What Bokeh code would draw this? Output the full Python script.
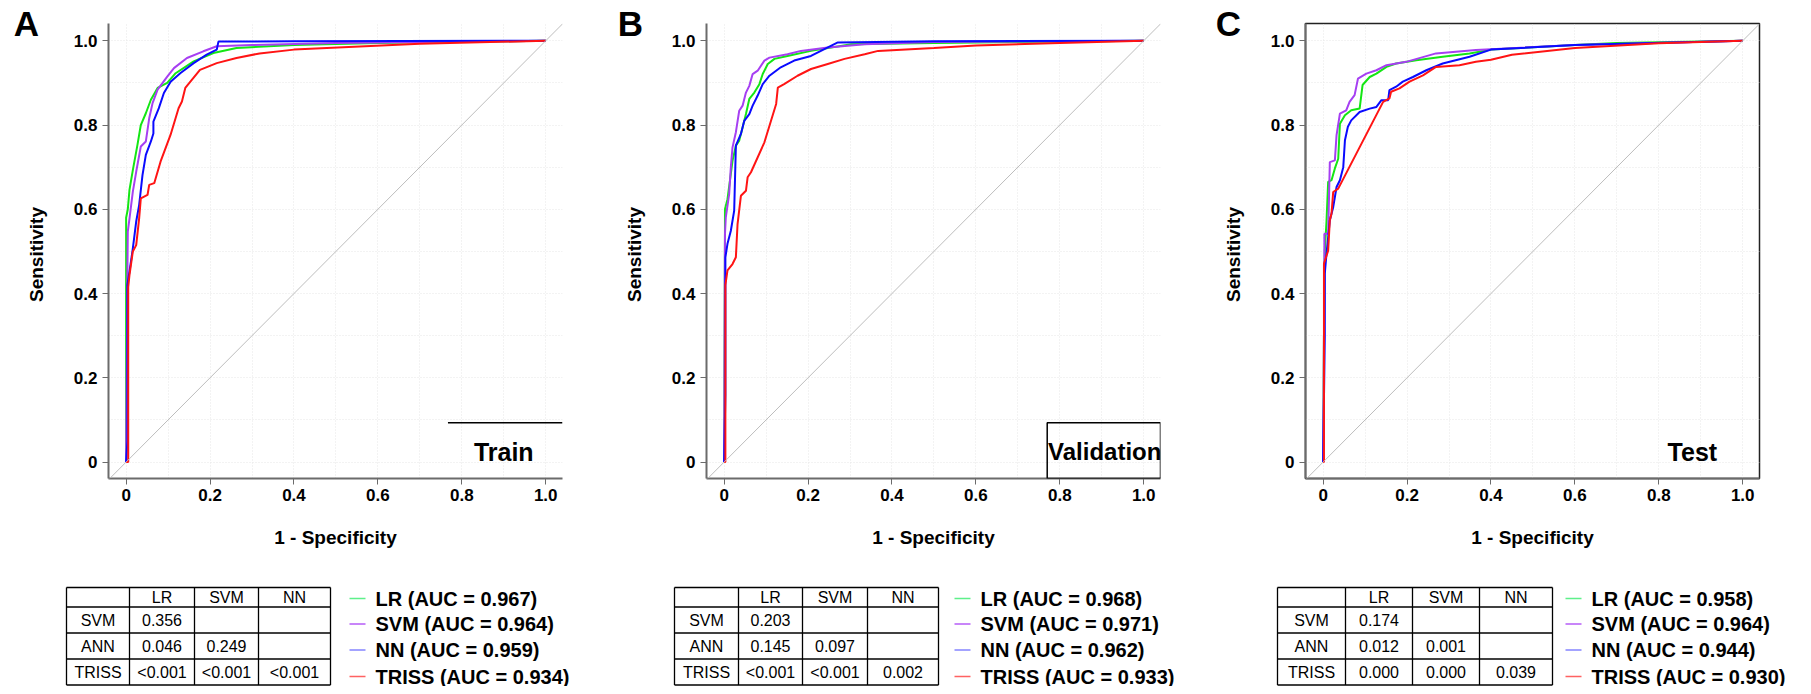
import math
from bokeh.plotting import figure
from bokeh.models import Range1d, FixedTicker, Label, Slope, BoxAnnotation
from bokeh.layouts import column, row
from bokeh.embed import file_html
from bokeh.resources import INLINE
from bokeh.core.properties import value

FONT = "Liberation Sans"

model_names = ["LR", "SVM", "NN", "TRISS"]
curve_colors = ["#14e614", "#a63ff2", "#0a0aff", "#ff1414"]
legend_colors = ["#5ef08a", "#b65cf7", "#8585ff", "#ff6262"]

tick_values = [0, 0.2, 0.4, 0.6, 0.8, 1.0]
tick_labels = ["0", "0.2", "0.4", "0.6", "0.8", "1.0"]
grid_values = [0.0, 0.1, 0.2, 0.3, 0.4, 0.5, 0.6, 0.7, 0.8, 0.9, 1.0]

# ---------------- Panel A : Train ----------------
train_lr_fpr = [0, 0, 0, 0.004, 0.008, 0.016, 0.027, 0.035, 0.047, 0.059, 0.075, 0.098, 0.118, 0.161, 0.208, 0.263, 0.4, 0.6, 0.8, 1.0]
train_lr_tpr = [0, 0.44, 0.58, 0.60, 0.646, 0.693, 0.753, 0.80, 0.828, 0.86, 0.888, 0.90, 0.923, 0.951, 0.971, 0.983, 0.99, 0.995, 0.998, 1.0]
train_svm_fpr = [0, 0.003, 0.004, 0.008, 0.016, 0.024, 0.035, 0.047, 0.055, 0.063, 0.075, 0.098, 0.114, 0.145, 0.184, 0.216, 0.3, 0.5, 0.8, 1.0]
train_svm_tpr = [0, 0.44, 0.547, 0.578, 0.642, 0.689, 0.749, 0.761, 0.816, 0.852, 0.884, 0.915, 0.935, 0.959, 0.975, 0.987, 0.99, 0.995, 0.998, 1.0]
train_nn_fpr = [0, 0.003, 0.003, 0.008, 0.016, 0.024, 0.031, 0.039, 0.047, 0.059, 0.065, 0.065, 0.078, 0.09, 0.106, 0.129, 0.161, 0.192, 0.216, 0.22, 0.4, 1.0]
train_nn_tpr = [0, 0.05, 0.42, 0.452, 0.507, 0.571, 0.61, 0.681, 0.729, 0.761, 0.78, 0.808, 0.84, 0.876, 0.903, 0.923, 0.947, 0.967, 0.979, 0.998, 0.999, 1.0]
train_triss_fpr = [0, 0.005, 0.005, 0.008, 0.016, 0.024, 0.031, 0.035, 0.051, 0.055, 0.067, 0.082, 0.106, 0.125, 0.133, 0.141, 0.176, 0.216, 0.263, 0.318, 0.4, 0.7, 1.0]
train_triss_tpr = [0, 0.0, 0.415, 0.444, 0.5, 0.515, 0.578, 0.626, 0.634, 0.658, 0.662, 0.713, 0.777, 0.84, 0.856, 0.888, 0.931, 0.947, 0.959, 0.97, 0.979, 0.993, 1.0]

# ---------------- Panel B : Validation ----------------
valid_lr_fpr = [0, 0.002, 0.002, 0.008, 0.016, 0.02, 0.028, 0.036, 0.044, 0.052, 0.06, 0.072, 0.084, 0.092, 0.104, 0.12, 0.151, 0.207, 0.303, 0.5, 1.0]
valid_lr_tpr = [0, 0.549, 0.60, 0.624, 0.684, 0.715, 0.751, 0.763, 0.794, 0.826, 0.862, 0.877, 0.897, 0.921, 0.945, 0.957, 0.964, 0.976, 0.992, 0.995, 1.0]
valid_svm_fpr = [0, 0.002, 0.004, 0.012, 0.016, 0.02, 0.028, 0.036, 0.044, 0.052, 0.06, 0.068, 0.08, 0.096, 0.108, 0.151, 0.183, 0.247, 0.335, 0.5, 1.0]
valid_svm_tpr = [0, 0.541, 0.581, 0.636, 0.70, 0.747, 0.783, 0.834, 0.846, 0.877, 0.893, 0.921, 0.929, 0.953, 0.96, 0.968, 0.976, 0.984, 0.992, 0.997, 1.0]
valid_nn_fpr = [0, 0.003, 0.003, 0.008, 0.016, 0.024, 0.028, 0.04, 0.048, 0.06, 0.068, 0.08, 0.092, 0.108, 0.135, 0.167, 0.207, 0.239, 0.271, 0.5, 1.0]
valid_nn_tpr = [0, 0.16, 0.486, 0.518, 0.549, 0.597, 0.751, 0.779, 0.81, 0.826, 0.846, 0.87, 0.897, 0.917, 0.937, 0.953, 0.964, 0.98, 0.996, 0.999, 1.0]
valid_triss_fpr = [0, 0.003, 0.003, 0.008, 0.02, 0.028, 0.032, 0.04, 0.052, 0.056, 0.064, 0.096, 0.124, 0.128, 0.143, 0.175, 0.207, 0.247, 0.287, 0.335, 0.367, 0.5, 0.6, 0.8, 1.0]
valid_triss_tpr = [0, 0, 0.42, 0.455, 0.47, 0.486, 0.565, 0.632, 0.644, 0.676, 0.688, 0.759, 0.85, 0.889, 0.897, 0.917, 0.933, 0.945, 0.957, 0.968, 0.976, 0.983, 0.989, 0.995, 1.0]

# ---------------- Panel C : Test ----------------
test_lr_fpr = [0, 0.003, 0.004, 0.008, 0.012, 0.02, 0.028, 0.036, 0.04, 0.052, 0.067, 0.087, 0.094, 0.111, 0.127, 0.151, 0.174, 0.222, 0.285, 0.349, 0.4, 0.6, 0.7, 1.0]
test_lr_tpr = [0, 0.45, 0.502, 0.57, 0.665, 0.669, 0.697, 0.72, 0.803, 0.823, 0.835, 0.839, 0.895, 0.914, 0.922, 0.938, 0.946, 0.954, 0.962, 0.97, 0.979, 0.99, 0.995, 1.0]
test_svm_fpr = [0, 0.003, 0.003, 0.012, 0.016, 0.028, 0.032, 0.04, 0.055, 0.063, 0.075, 0.083, 0.103, 0.127, 0.151, 0.198, 0.269, 0.364, 0.6, 1.0]
test_svm_tpr = [0, 0.45, 0.542, 0.542, 0.712, 0.716, 0.776, 0.827, 0.835, 0.855, 0.871, 0.91, 0.922, 0.93, 0.942, 0.95, 0.97, 0.978, 0.99, 1.0]
test_nn_fpr = [0, 0.004, 0.004, 0.008, 0.016, 0.024, 0.032, 0.04, 0.048, 0.052, 0.059, 0.067, 0.087, 0.111, 0.127, 0.139, 0.155, 0.158, 0.174, 0.19, 0.214, 0.246, 0.285, 0.349, 0.4, 0.6, 1.0]
test_nn_tpr = [0, 0.3, 0.447, 0.494, 0.574, 0.605, 0.653, 0.669, 0.70, 0.764, 0.796, 0.811, 0.831, 0.839, 0.843, 0.859, 0.859, 0.883, 0.891, 0.903, 0.914, 0.93, 0.946, 0.962, 0.979, 0.99, 1.0]
test_triss_fpr = [0, 0.002, 0.002, 0.012, 0.016, 0.02, 0.024, 0.036, 0.143, 0.158, 0.162, 0.182, 0.206, 0.238, 0.269, 0.325, 0.364, 0.4, 0.45, 0.6, 0.8, 1.0]
test_triss_tpr = [0, 0, 0.471, 0.502, 0.574, 0.59, 0.641, 0.649, 0.855, 0.863, 0.879, 0.887, 0.903, 0.918, 0.938, 0.942, 0.95, 0.955, 0.967, 0.983, 0.994, 1.0]

# ---------------- AUCs and pairwise p-value tables ----------------
train_auc = ["0.967", "0.964", "0.959", "0.934"]
valid_auc = ["0.968", "0.971", "0.962", "0.933"]
test_auc = ["0.958", "0.964", "0.944", "0.930"]

table_col_labels = ["LR", "SVM", "NN"]
table_row_labels = ["SVM", "ANN", "TRISS"]
train_p = [["0.356", "", ""], ["0.046", "0.249", ""], ["<0.001", "<0.001", "<0.001"]]
valid_p = [["0.203", "", ""], ["0.145", "0.097", ""], ["<0.001", "<0.001", "0.002"]]
test_p = [["0.174", "", ""], ["0.012", "0.001", ""], ["0.000", "0.000", "0.039"]]

panel_letters = ["A", "B", "C"]
set_names = ["Train", "Validation", "Test"]
y_title = "Sensitivity"
x_title = "1 - Specificity"

TOP_H = 556  # height of the upper row (pixels)


def make_strip(x0, x1, letter, letter_x, title_x):
    s = figure(width=x1 - x0, height=TOP_H, x_range=Range1d(x0, x1), y_range=Range1d(0, TOP_H),
               output_backend="svg", toolbar_location=None, min_border=0,
               x_axis_location=None, y_axis_location=None)
    s.grid.visible = False
    s.outline_line_color = None
    s.text(x=[letter_x], y=[TOP_H - 22.5], text=[letter], text_font=value(FONT),
           text_font_style="bold", text_font_size=value("35px"),
           text_align="center", text_baseline="middle", text_color="black")
    s.text(x=[title_x], y=[TOP_H - 254], text=[y_title], angle=math.pi / 2,
           text_font=value(FONT), text_font_style="bold", text_font_size=value("19px"),
           text_align="center", text_baseline="middle", text_color="black")
    return column(s)


def make_roc(width, left, curves, set_name, set_x, set_size, mode):
    p = figure(width=width, height=TOP_H,
               x_range=Range1d(-0.042, 1.04), y_range=Range1d(-0.039, 1.041),
               output_backend="svg", toolbar_location=None,
               min_border_left=left, min_border_right=width - left - 454,
               min_border_top=23, min_border_bottom=78,
               background_fill_color="white", border_fill_color="white")
    if mode == "box":
        p.outline_line_color = "#222222"
        p.outline_line_width = 1.5
    else:
        p.outline_line_color = None
    for g in (p.xgrid, p.ygrid):
        g.ticker = FixedTicker(ticks=grid_values)
        g.grid_line_color = "#e6e6e6"
        g.grid_line_dash = "1 2"
        g.grid_line_width = 1
    for ax in (p.xaxis, p.yaxis):
        ax.ticker = FixedTicker(ticks=tick_values)
        ax.major_label_overrides = dict(zip(tick_values, tick_labels))
        ax.axis_line_color = "#6b6b6b"
        ax.axis_line_width = 2
        ax.major_tick_line_color = "#6b6b6b"
        ax.major_tick_in = 0
        ax.major_tick_out = 6
        ax.minor_tick_line_color = None
        ax.major_label_text_font = FONT
        ax.major_label_text_font_style = "bold"
        ax.major_label_text_font_size = "17px"
        ax.major_label_text_color = "black"
        ax.axis_label_text_font = FONT
        ax.axis_label_text_font_style = "bold"
        ax.axis_label_text_font_size = "19px"
        ax.axis_label_text_color = "black"
    p.xaxis.axis_label = x_title
    p.xaxis.major_label_standoff = 4
    p.yaxis.major_label_standoff = 5
    p.xaxis.axis_label_standoff = 23

    p.add_layout(Slope(gradient=1, y_intercept=0, line_color="#bdbdbd", line_width=1))

    for (fpr, tpr), c in zip(curves, curve_colors):
        p.line(fpr, tpr, line_color=c, line_width=2)

    if mode == "line":
        p.segment(x0=[0.767], y0=[0.0934], x1=[1.04], y1=[0.0934], line_color="black", line_width=1.5)
    elif mode == "validbox":
        p.add_layout(BoxAnnotation(left=0.77, top=0.0934, fill_alpha=0,
                                   line_color="black", line_alpha=1.0, line_width=1.5))

    p.add_layout(Label(x=set_x, y=0.024, text=set_name, text_font=FONT,
                       text_font_style="bold", text_font_size=set_size,
                       text_align="center", text_baseline="middle", text_color="black"))
    return p


sA = make_strip(0, 60, panel_letters[0], 26, 35.5)
pA = make_roc(546, 48, [(train_lr_fpr, train_lr_tpr), (train_svm_fpr, train_svm_tpr),
                        (train_nn_fpr, train_nn_tpr), (train_triss_fpr, train_triss_tpr)],
              set_names[0], 0.90, "25px", "line")
sB = make_strip(606, 660, panel_letters[1], 630, 634)
pB = make_roc(545, 46, [(valid_lr_fpr, valid_lr_tpr), (valid_svm_fpr, valid_svm_tpr),
                        (valid_nn_fpr, valid_nn_tpr), (valid_triss_fpr, valid_triss_tpr)],
              set_names[1], 0.907, "24px", "validbox")
sC = make_strip(1205, 1259, panel_letters[2], 1228, 1233)
pC = make_roc(544, 46, [(test_lr_fpr, test_lr_tpr), (test_svm_fpr, test_svm_tpr),
                        (test_nn_fpr, test_nn_tpr), (test_triss_fpr, test_triss_tpr)],
              set_names[2], 0.88, "25px", "box")

# ---------------- bottom strip: tables + legends ----------------
q = figure(width=1803, height=130, x_range=Range1d(0, 1803), y_range=Range1d(686, 556),
           output_backend="svg", toolbar_location=None, min_border=0,
           x_axis_location=None, y_axis_location=None)
q.grid.visible = False
q.outline_line_color = None

table_xs = [[66, 129, 194, 258, 330], [674, 738, 802, 867, 938], [1277, 1345, 1412, 1479, 1552]]
table_ys = [587, 606.5, 632.5, 658.5, 684.5]
legend_x = [349, 954, 1565]
legend_ys = [598, 623.5, 649.5, 676]

for xs, pvals, aucs, lx in zip(table_xs, [train_p, valid_p, test_p],
                               [train_auc, valid_auc, test_auc], legend_x):
    q.segment(x0=xs, y0=[table_ys[0]] * len(xs), x1=xs, y1=[table_ys[-1]] * len(xs),
              line_color="black", line_width=1.3)
    q.segment(x0=[xs[0]] * len(table_ys), y0=table_ys, x1=[xs[-1]] * len(table_ys), y1=table_ys,
              line_color="black", line_width=1.3)
    cx = [(xs[i] + xs[i + 1]) / 2 for i in range(4)]
    cy = [(table_ys[i] + table_ys[i + 1]) / 2 for i in range(4)]
    tx, ty, tt = [], [], []
    for j, lab in enumerate(table_col_labels):
        tx.append(cx[j + 1]); ty.append(cy[0]); tt.append(lab)
    for i, lab in enumerate(table_row_labels):
        tx.append(cx[0]); ty.append(cy[i + 1]); tt.append(lab)
        for j in range(3):
            if pvals[i][j]:
                tx.append(cx[j + 1]); ty.append(cy[i + 1]); tt.append(pvals[i][j])
    q.text(x=tx, y=ty, text=tt, text_font=value(FONT), text_font_size=value("16px"),
           text_align="center", text_baseline="middle", text_color="black")
    q.segment(x0=[lx] * 4, y0=legend_ys, x1=[lx + 16] * 4, y1=legend_ys,
              line_color=legend_colors, line_width=1.5)
    labels = [f"{m} (AUC = {a})" for m, a in zip(model_names, aucs)]
    q.text(x=[lx + 26] * 4, y=legend_ys, text=labels, text_font=value(FONT),
           text_font_style="bold", text_font_size=value("20px"),
           text_align="left", text_baseline="middle", text_color="black")

layout = column(row(sA, pA, sB, pB, sC, pC), q)
open("out.html", "w").write(file_html(layout, INLINE))
